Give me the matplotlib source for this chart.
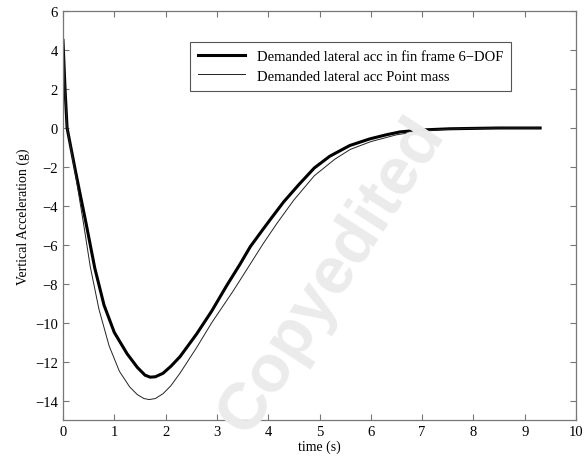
import matplotlib
matplotlib.use("Agg")
import matplotlib.pyplot as plt

# 6-DOF demanded lateral acceleration (thick line)
t_6dof = [0, 0.04, 0.08, 0.25, 0.45, 0.62, 0.8, 1.0, 1.25, 1.45, 1.6, 1.7,
          1.8, 1.95, 2.1, 2.28, 2.6, 2.9, 3.19, 3.45, 3.65, 3.9, 4.07, 4.3,
          4.6, 4.9, 5.2, 5.59, 5.98, 6.3, 6.57, 7.0, 7.54, 8.0, 8.5, 9.0, 9.3]
a_6dof = [4.5, 2.0, 0.0, -2.3, -4.9, -7.2, -9.1, -10.5, -11.6, -12.3, -12.7,
          -12.8, -12.78, -12.6, -12.25, -11.75, -10.6, -9.4, -8.1, -7.0, -6.1,
          -5.2, -4.6, -3.8, -2.9, -2.05, -1.45, -0.9, -0.56, -0.35, -0.2,
          -0.1, -0.04, -0.02, 0, 0, 0]

# point mass demanded lateral acceleration (thin line)
t_pm = [0, 0.04, 0.08, 0.25, 0.4, 0.53, 0.7, 0.9, 1.1, 1.3, 1.45, 1.58, 1.68,
        1.8, 1.95, 2.1, 2.28, 2.6, 2.9, 3.31, 3.6, 3.9, 4.17, 4.5, 4.9, 5.3,
        5.6, 6.0, 6.5, 7.0, 7.5, 8.0, 8.5, 9.0, 9.3]
a_pm = [4.5, 2.0, 0.0, -2.5, -4.9, -7.1, -9.3, -11.2, -12.5, -13.3, -13.7,
        -13.9, -13.95, -13.9, -13.65, -13.25, -12.6, -11.3, -10.0, -8.4, -7.2,
        -5.95, -4.9, -3.7, -2.45, -1.6, -1.1, -0.7, -0.35, -0.15, -0.06,
        -0.02, 0, 0, 0]

xticks = list(range(0, 11))
yticks = list(range(-14, 7, 2))

plt.rcParams['font.family'] = ['Liberation Serif', 'DejaVu Serif']
plt.rcParams['font.size'] = 10

fig = plt.figure(figsize=(5.87, 4.64), dpi=100)
ax = fig.add_axes([0.1073, 0.0927, 0.874, 0.881])

fig.text(0.565, 0.405, 'Copyedited', rotation=57, fontsize=48,
         fontweight='bold', family='Liberation Sans', color='#ebebeb',
         ha='center', va='center', zorder=0)
ax.patch.set_alpha(0)

ax.plot(t_6dof, a_6dof, color='black', lw=2.2, solid_joinstyle='round',
        label='Demanded lateral acc in fin frame 6\u2212DOF')
ax.plot(t_pm, a_pm, color='#222222', lw=0.7, solid_joinstyle='round',
        label='Demanded lateral acc Point mass')

ax.set_xlim(0, 10)
ax.set_ylim(-15, 6)
ax.set_xticks(xticks)
ax.set_yticks(yticks)
ax.tick_params(direction='in', top=True, right=True, length=4,
               color='#777777', labelsize=10.5)
for s in ax.spines.values():
    s.set_color('#777777')
    s.set_linewidth(0.9)

ax.set_xlabel('time (s)', fontsize=10, labelpad=1)
ax.set_ylabel('Vertical Acceleration (g)', fontsize=10, labelpad=4)

leg = ax.legend(loc='upper left', bbox_to_anchor=(0.248, 0.924),
                fontsize=10.5, fancybox=False, framealpha=1,
                edgecolor='#555555', borderaxespad=0, handlelength=3.2,
                borderpad=0.55, labelspacing=0.4)
leg.get_frame().set_linewidth(0.8)

fig.savefig('out.png', dpi=100)
